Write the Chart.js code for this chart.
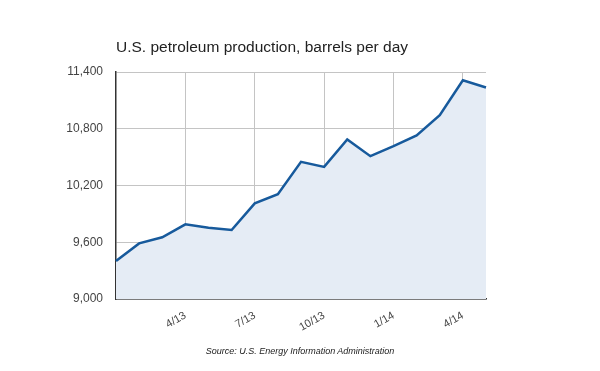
<!DOCTYPE html>
<html>
<head>
<meta charset="utf-8">
<script src="https://cdn.jsdelivr.net/npm/chart.js@4"></script>
<style>
  body { margin:0; background:#fff; }
  #wrap { position:relative; width:600px; height:371px; }
  #titolo { position:absolute; left:116px; top:38px; font:15.5px "Liberation Sans", Arial, sans-serif; color:#222; }
  #fonte { position:absolute; left:0; width:600px; top:346px; text-align:center; font:italic 9px "Liberation Sans", Arial, sans-serif; color:#222; }
</style>
</head>
<body>
<div id="wrap">
  <canvas id="line-chart" width="600" height="371"></canvas>
  <div id="titolo">U.S. petroleum production, barrels per day</div>
  <div id="fonte">Source: U.S. Energy Information Administration</div>
</div>
<script>
// mesi gen 2013 - mag 2014
var mesi = ["1/13","2/13","3/13","4/13","5/13","6/13","7/13","8/13","9/13","10/13","11/13","12/13","1/14","2/14","3/14","4/14","5/14"];
var produzione = [9401, 9588, 9652, 9789, 9753, 9729, 10011, 10109, 10450, 10397, 10686, 10510, 10616, 10729, 10943, 11313, 11236];
var etichetteMostrate = ["4/13","7/13","10/13","1/14","4/14"];
var tickY = [9000, 9600, 10200, 10800, 11400];

new Chart(document.getElementById("line-chart"),
{
  type: 'line',
  data:
  {
    labels: mesi,
    datasets:
    [
      {
        data: produzione,
        borderColor: "#175a9c",
        backgroundColor: "#e5ecf5",
        borderWidth: 2.5,
        pointRadius: 0,
        tension: 0,
        fill: 'origin'
      }
    ]
  },
  options:
  {
    responsive: false,
    animation: false,
    layout: { padding: { left: 56, right: 114, top: 72, bottom: 30 } },
    plugins: { legend: { display: false }, tooltip: { enabled: false } },
    scales:
    {
      x:
      {
        offset: false,
        afterFit: function(scala) { scala.height = 42; },
        grid:
        {
          drawTicks: false,
          color: function(ctx) {
            return etichetteMostrate.indexOf(mesi[ctx.index]) >= 0 ? "#c4c4c4" : "rgba(0,0,0,0)";
          }
        },
        border: { color: "#333", width: 1.5 },
        ticks:
        {
          autoSkip: false,
          minRotation: 30,
          maxRotation: 30,
          padding: 10,
          color: "#444",
          font: { family: "Liberation Sans", size: 11 },
          callback: function(v, i) {
            return etichetteMostrate.indexOf(mesi[i]) >= 0 ? mesi[i] : "";
          }
        }
      },
      y:
      {
        min: 9000,
        max: 11400,
        afterFit: function(scala) { scala.width = 60; },
        afterBuildTicks: function(scala) { scala.ticks = tickY.map(function(v) { return { value: v }; }); },
        grid: { drawTicks: false, color: "#c4c4c4" },
        border: { color: "#333", width: 1.5 },
        ticks:
        {
          padding: 13,
          color: "#444",
          font: { family: "Liberation Sans", size: 12 },
          callback: function(v) { return v.toLocaleString("en-US"); }
        }
      }
    }
  }
});
</script>
</body>
</html>
